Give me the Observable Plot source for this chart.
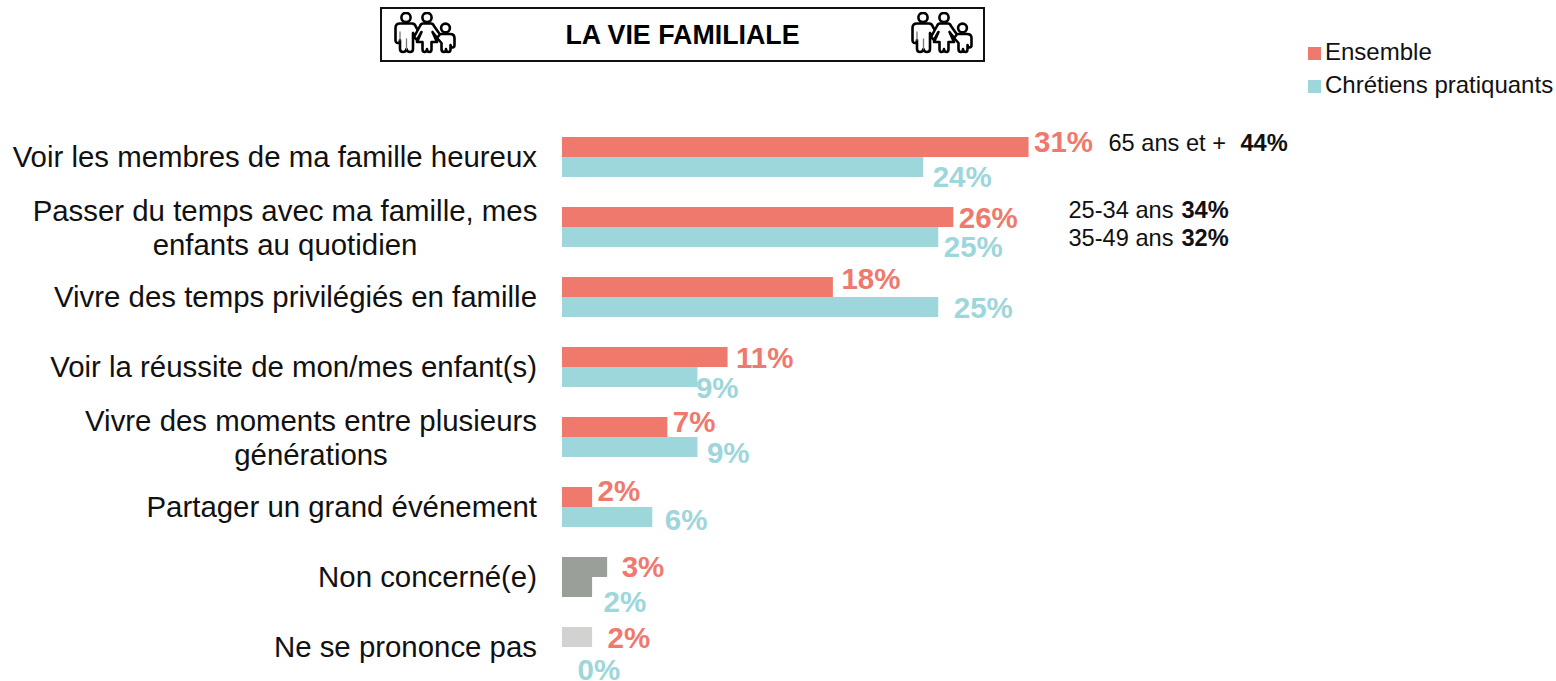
<!doctype html>
<html><head><meta charset="utf-8">
<script src="https://cdn.jsdelivr.net/npm/d3@7"></script>
<script src="https://cdn.jsdelivr.net/npm/@observablehq/plot@0.6"></script>
<style>
html,body{margin:0;padding:0;background:#fff;font-family:"Liberation Sans",Arial,sans-serif}
#wrap{position:relative;width:1556px;height:681px;overflow:hidden}
#title{position:absolute;left:380px;top:7px;width:601px;height:51px;border:2px solid #111;background:#fff}
#title span{position:absolute;left:0;right:0;top:0;line-height:53px;text-align:center;font-weight:bold;font-size:26.8px;color:#000}
.icon{position:absolute;top:3px;width:62px;height:44px}
.legend{position:absolute;left:1308px;font-size:24px;line-height:26px;color:#111;white-space:nowrap}
.legend i{display:inline-block;width:13px;height:13px;margin-right:4px;position:relative;top:0}
</style></head><body>
<div id="wrap">
<div id="chart"></div>
<div id="title">
<svg class="icon" style="left:12px" viewBox="0 0 62 44"><use href="#fam"/></svg>
<span>LA VIE FAMILIALE</span>
<svg class="icon" style="left:529px" viewBox="0 0 62 44"><use href="#fam"/></svg>
</div>
<div class="legend" style="top:39px"><i style="background:#F0796D"></i>Ensemble</div>
<div class="legend" style="top:72px"><i style="background:#9DD6DB"></i>Chrétiens pratiquants</div>
<svg width="0" height="0" style="position:absolute"><defs><g id="fam" fill="#fff" stroke="#000" stroke-width="2.6" stroke-linejoin="round" stroke-linecap="round">
<circle cx="12" cy="5.5" r="4.6"/>
<path d="M6,11.5 H18 Q21,11.5 22,15 L28,25 L25,28 L19,21 V37 Q19,40 16,40 Q13,40 12.5,37 Q12,40 9,40 Q6,40 6,37 V28 Q6,31 4,31 Q1.5,31 1.5,28 V16 Q1.5,11.5 6,11.5 Z"/>
<path d="M6,20 V28 M12.5,27 V37" stroke-width="1.3" stroke="#777"/>
<circle cx="33" cy="5.5" r="4.6"/>
<path d="M29,11.5 H37 Q39,11.5 40,14 L47,24 L44,27 L38.5,20 L43,30 H37.5 V37 Q37.5,40 35.5,40 Q33,40 33,37 Q33,40 30.5,40 Q28.5,40 28.5,37 V30 H23 L27.5,20 L23,28 L20,25 L26,14 Q27,11.5 29,11.5 Z"/>
<circle cx="51.5" cy="16" r="4.4"/>
<path d="M47,22 H56 Q60.5,22 60.5,26 V33 Q60.5,35.5 58.5,35.5 Q57,35.5 56.5,33 V37 Q56.5,40 54.5,40 Q52,40 52,37 Q52,40 50,40 Q47.5,40 47.5,37 V31 L43,26 L45,23.5 Q46,22 47,22 Z"/>
</g></defs></svg>
</div>
<script>
const categories = [
  "Voir les membres de ma famille heureux",
  "Passer du temps avec ma famille, mes\nenfants au quotidien",
  "Vivre des temps privilégiés en famille",
  "Voir la réussite de mon/mes enfant(s)",
  "Vivre des moments entre plusieurs\ngénérations",
  "Partager un grand événement",
  "Non concerné(e)",
  "Ne se prononce pas"
];
const seriesNames = ["Ensemble", "Chrétiens pratiquants"];
const ensemble = [31, 26, 18, 11, 7, 2, 3, 2];
const chretiens = [24, 25, 25, 9, 9, 6, 2, 0];
const sideNoteLabels = ["65 ans et +", "25-34 ans", "35-49 ans"];
const sideNoteValues = ["44%", "34%", "32%"];
const sideNoteRows = [0, 1, 1];

// layout only: label offsets from the bar end / bar centre
const labelNudgeX = [[5,9],[5,5],[8,15],[8,-2],[5,9],[5,12],[14,11],[15,15]];
const labelNudgeY = [[-5,10],[1,10],[-8,1],[1,11],[-5,6],[-6,3],[0,15],[1,13]];
const sideNoteLayout = [{dx:546,bx:678,dy:-14},{dx:506,bx:619,dy:-17},{dx:506,bx:619,dy:11}];
const multiLineDx = [-277.5, -251.5];

const colors = {Ensemble:"#F0796D","Chrétiens pratiquants":"#9DD6DB"};
const F = "Liberation Sans, Arial, sans-serif";

const rows = categories.flatMap((c,i)=>[
  {cat:c,i,series:seriesNames[0],value:ensemble[i],j:0},
  {cat:c,i,series:seriesNames[1],value:chretiens[i],j:1}
]);
const barFill = d => d.i===6 ? "#9B9F99" : d.i===7 ? "#D2D3D1" : colors[d.series];

const labelMarks = rows.map(d => Plot.text([d],{
  fy:"cat", y:"series", x:"value", text:r=>r.value+"%",
  textAnchor:"start", dx:labelNudgeX[d.i][d.j], dy:labelNudgeY[d.i][d.j],
  fill:colors[d.series], fontSize:29.5, fontWeight:"bold"
}));

const notes = sideNoteLabels.map((t,k)=>({t,v:sideNoteValues[k],cat:categories[sideNoteRows[k]],...sideNoteLayout[k]}));
const noteMarks = notes.flatMap(n=>[
  Plot.text([n],{fy:"cat",text:"t",frameAnchor:"left",textAnchor:"start",dx:n.dx,dy:n.dy,fontSize:23.6,fill:"#111"}),
  Plot.text([n],{fy:"cat",text:"v",frameAnchor:"left",textAnchor:"start",dx:n.bx,dy:n.dy,fontSize:23.6,fontWeight:"bold",fill:"#111"})
]);

const catData = categories.map(c=>({cat:c,multi:c.includes("\n")}));

const chart = Plot.plot({
  width:1556, height:681,
  marginLeft:562, marginRight:0, marginTop:137, marginBottom:14,
  style:{fontFamily:F, background:"transparent", overflow:"visible"},
  x:{domain:[0,994/15.05], axis:null},
  y:{domain:seriesNames, axis:null, padding:0, round:false},
  fy:{domain:categories, axis:null, paddingInner:30/70, paddingOuter:0, round:false},
  marks:[
    Plot.barX(rows,{fy:"cat",y:"series",x:"value",fill:barFill,inset:0}),
    ...labelMarks,
    ...noteMarks,
    Plot.text(catData.filter(d=>!d.multi),{fy:"cat",text:"cat",frameAnchor:"left",textAnchor:"end",dx:-25.5,fontSize:29.4,fill:"#111"}),
    ...catData.filter(d=>d.multi).map((d,k)=>Plot.text([d],{fy:"cat",text:"cat",frameAnchor:"left",textAnchor:"middle",dx:multiLineDx[k],fontSize:29.4,lineHeight:1.15,fill:"#111"}))
  ]
});
document.getElementById("chart").appendChild(chart);
</script>
</body></html>
